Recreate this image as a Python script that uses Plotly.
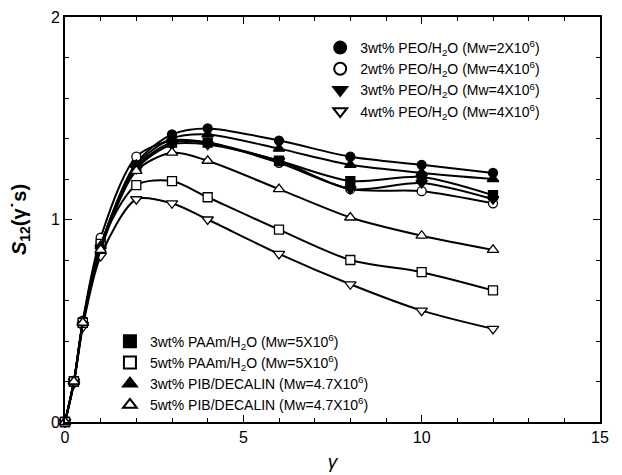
import plotly.graph_objects as go

gamma = [0, 0.25, 0.5, 1, 2, 3, 4, 6, 8, 10, 12]

peo3_2e6 = [0, 0.20, 0.49, 0.87, 1.28, 1.42, 1.45, 1.39, 1.31, 1.27, 1.23]
peo2_4e6 = [0, 0.20, 0.50, 0.91, 1.31, 1.39, 1.38, 1.28, 1.15, 1.14, 1.08]
peo3_4e6 = [0, 0.20, 0.48, 0.86, 1.25, 1.37, 1.37, 1.29, 1.15, 1.18, 1.10]
peo4_4e6 = [0, 0.19, 0.47, 0.82, 1.10, 1.08, 1.00, 0.83, 0.68, 0.55, 0.46]
paam3 = [0, 0.20, 0.49, 0.87, 1.26, 1.38, 1.38, 1.29, 1.19, 1.21, 1.12]
paam5 = [0, 0.20, 0.49, 0.88, 1.17, 1.19, 1.11, 0.95, 0.80, 0.74, 0.65]
pib3 = [0, 0.20, 0.49, 0.87, 1.27, 1.40, 1.42, 1.35, 1.27, 1.23, 1.20]
pib5 = [0, 0.20, 0.49, 0.85, 1.24, 1.33, 1.29, 1.15, 1.01, 0.92, 0.85]

series = [
    ("3wt% PEO/H<sub>2</sub>O (Mw=2X10<sup>6</sup>)", peo3_2e6, "circle", "legend"),
    ("2wt% PEO/H<sub>2</sub>O (Mw=4X10<sup>6</sup>)", peo2_4e6, "circle-open", "legend"),
    ("3wt% PEO/H<sub>2</sub>O (Mw=4X10<sup>6</sup>)", peo3_4e6, "triangle-down", "legend"),
    ("4wt% PEO/H<sub>2</sub>O (Mw=4X10<sup>6</sup>)", peo4_4e6, "triangle-down-open", "legend"),
    ("3wt% PAAm/H<sub>2</sub>O (Mw=5X10<sup>6</sup>)", paam3, "square", "legend2"),
    ("5wt% PAAm/H<sub>2</sub>O (Mw=5X10<sup>6</sup>)", paam5, "square-open", "legend2"),
    ("3wt% PIB/DECALIN (Mw=4.7X10<sup>6</sup>)", pib3, "triangle-up", "legend2"),
    ("5wt% PIB/DECALIN (Mw=4.7X10<sup>6</sup>)", pib5, "triangle-up-open", "legend2"),
]


def make_marker(sym):
    openm = sym.endswith("open")
    base = sym.replace("-open", "")
    return dict(symbol=base, size=10 if "triangle" in base else 9,
                color="white" if openm else "black",
                line=dict(color="black", width=1.3))


fig = go.Figure()
for name, ys, sym, leg in series:
    fig.add_trace(go.Scatter(x=gamma, y=ys, mode="lines+markers",
                             line=dict(color="black", width=2, shape="spline", smoothing=0.8),
                             marker=make_marker(sym), showlegend=False, cliponaxis=False))
for name, ys, sym, leg in series:
    fig.add_trace(go.Scatter(x=[None], y=[None], mode="markers", name=name,
                             marker=make_marker(sym), legend=leg))

font = dict(family="Arial, Liberation Sans, sans-serif", color="black")
axis_common = dict(showline=True, linecolor="black", linewidth=2, mirror="allticks",
                   ticks="inside", ticklen=7, tickwidth=1, tickcolor="black",
                   showgrid=False, zeroline=False, automargin=False,
                   tickfont=dict(size=16, **font))

ytitle = "<b><i>S</i><sub>12</sub>(γ˙s)</b>"

fig.update_layout(
    width=622, height=475,
    margin=dict(l=65, r=22, t=17, b=53),
    paper_bgcolor="white", plot_bgcolor="white",
    font=font,
    xaxis=dict(range=[0, 15], dtick=5, tick0=0,
               minor=dict(dtick=1, ticks="inside", ticklen=4, tickcolor="black"),
               title=dict(text="<i>γ</i>", font=dict(size=19, **font), standoff=9),
               **axis_common),
    yaxis=dict(range=[0, 2], dtick=1, tick0=0,
               minor=dict(dtick=0.2, ticks="inside", ticklen=4, tickcolor="black"),
               title=dict(text=ytitle, font=dict(size=20, **font), standoff=19),
               **axis_common),
    legend=dict(x=0.477, y=0.963, xanchor="left", yanchor="top", bgcolor="rgba(0,0,0,0)",
                font=dict(size=14, **font), tracegroupgap=0, itemsizing="constant"),
    legend2=dict(x=0.084, y=0.238, xanchor="left", yanchor="top", bgcolor="rgba(0,0,0,0)",
                 font=dict(size=14, **font), tracegroupgap=0, itemsizing="constant"),
)

fig.write_html("out.html")
